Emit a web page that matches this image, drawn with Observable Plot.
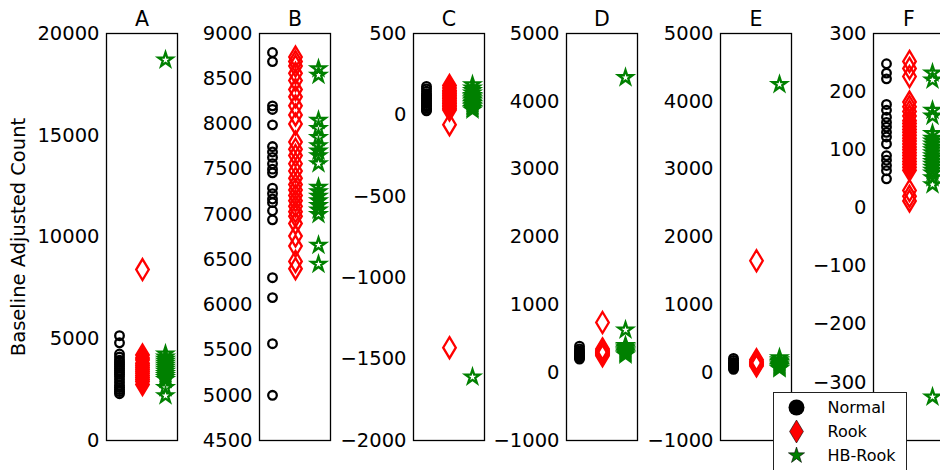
<!DOCTYPE html>
<html>
<head>
<meta charset="utf-8">
<script src="https://cdn.jsdelivr.net/npm/d3@7"></script>
<script src="https://cdn.jsdelivr.net/npm/@observablehq/plot@0.6"></script>
<style>
  html, body { margin: 0; padding: 0; background: #fff; }
  #chart { position: relative; width: 940px; height: 470px; overflow: hidden; font-family: "DejaVu Sans", sans-serif; }
  #chart > div { position: absolute; top: 0; }
  #legend { background: #fff; border: 1px solid #222; box-sizing: border-box; }
</style>
</head>
<body>
<div id="chart"></div>
<script>
// Panels and groups
const panels = ["A", "B", "C", "D", "E", "F"];
const groups = ["Normal", "Rook", "HB-Rook"];
const yLabel = "Baseline Adjusted Count";

// Baseline adjusted counts per panel and group
const normalA = [5150, 4800, 4250, 4100, 3950, 3850, 3750, 3650, 3550, 3450, 3350, 3250, 3150, 3000, 2850, 2700, 2600, 2500, 2400, 2300];
const rookA = [8400, 4200, 4050, 3950, 3800, 3700, 3600, 3500, 3400, 3300, 3200, 3100, 3000, 2900, 2750];
const hbRookA = [18700, 4250, 4100, 4000, 3900, 3800, 3700, 3600, 3500, 3400, 3300, 3200, 3100, 3000, 2600, 2200];

const normalB = [8790, 8690, 8200, 8160, 7990, 7750, 7690, 7630, 7560, 7500, 7460, 7290, 7230, 7170, 7130, 7040, 6940, 6300, 6080, 5570, 5000];
const rookB = [8740, 8690, 8640, 8560, 8480, 8380, 8300, 8200, 8100, 8000, 7800, 7720, 7650, 7560, 7480, 7400, 7330, 7270, 7210, 7150, 7090, 7030, 6980, 6900, 6760, 6650, 6480, 6400];
const hbRookB = [8610, 8540, 8040, 7950, 7850, 7760, 7700, 7650, 7560, 7300, 7250, 7200, 7150, 7100, 7050, 7000, 6660, 6450];

const normalC = [175, 160, 145, 130, 120, 110, 100, 90, 80, 70, 60, 50, 40, 30, 25];
const rookC = [180, 165, 150, 140, 130, 120, 110, 100, 90, 80, 70, 60, 50, 40, 30, -60, -1430];
const hbRookC = [185, 165, 150, 135, 120, 110, 100, 90, 80, 70, 60, 50, 40, 30, -1610];

const normalD = [390, 350, 320, 300, 280, 260, 240, 220, 200];
const rookD = [740, 350, 330, 310, 300, 290, 280, 270, 250];
const hbRookD = [4350, 630, 400, 380, 360, 340, 320, 300, 280, 260];

const normalE = [210, 180, 150, 130, 110, 90, 70, 50];
const rookE = [1650, 190, 170, 150, 130, 115, 100];
const hbRookE = [4250, 220, 190, 170, 150, 130, 110, 90, 70, 60];

const normalF = [248, 232, 222, 178, 168, 156, 147, 139, 130, 122, 110, 90, 82, 73, 64, 50];
const rookF = [252, 240, 226, 182, 174, 166, 158, 150, 145, 140, 135, 130, 125, 120, 115, 110, 105, 100, 95, 90, 85, 80, 75, 70, 65, 30, 20, 12];
const hbRookF = [232, 220, 168, 158, 128, 120, 115, 110, 105, 100, 95, 90, 85, 80, 75, 70, 65, 60, 52, 40, -325];

// Y extents and tick values per panel
const yDomains = [[0, 20000], [4500, 9000], [-2000, 500], [-1000, 5000], [-1000, 5000], [-400, 300]];
const yTicks = [
  [0, 5000, 10000, 15000, 20000],
  [4500, 5000, 5500, 6000, 6500, 7000, 7500, 8000, 8500, 9000],
  [-2000, -1500, -1000, -500, 0, 500],
  [-1000, 0, 1000, 2000, 3000, 4000, 5000],
  [-1000, 0, 1000, 2000, 3000, 4000, 5000],
  [-400, -300, -200, -100, 0, 100, 200, 300]
];

const seriesByGroup = [
  [normalA, normalB, normalC, normalD, normalE, normalF],
  [rookA, rookB, rookC, rookD, rookE, rookF],
  [hbRookA, hbRookB, hbRookC, hbRookD, hbRookE, hbRookF]
];

// Marker shapes: r is the half-height of the diamond and the outer radius of the star
const thinDiamond = {
  draw(context, size) {
    const h = Math.sqrt(size / Math.PI), w = h * 0.6;
    context.moveTo(0, -h); context.lineTo(w, 0); context.lineTo(0, h); context.lineTo(-w, 0); context.closePath();
  }
};
const star = {
  draw(context, size) {
    const R = Math.sqrt(size / Math.PI), ri = R * 0.381966;
    for (let i = 0; i < 10; i++) {
      const rad = i % 2 ? ri : R, a = i * Math.PI / 5;
      const x = rad * Math.sin(a), y = -rad * Math.cos(a);
      if (i) context.lineTo(x, y); else context.moveTo(x, y);
    }
    context.closePath();
  }
};
const groupStyle = [
  {symbol: "circle", r: 4.3, color: "#000000"},
  {symbol: thinDiamond, r: 10.5, color: "#ff0000"},
  {symbol: star, r: 7.5, color: "#008000"}
];

const chart = document.getElementById("chart");
const frameWidth = 71;
const panelStep = 153.4;
const firstFrameLeft = 106;

panels.forEach((name, i) => {
  const ml = i === 0 ? 106 : 80;
  const mr = 2;
  const width = ml + frameWidth + mr;
  const rows = groups.map((g, j) => seriesByGroup[j][i].map(v => ({group: g, value: v})));
  const plot = Plot.plot({
    width, height: 470,
    marginLeft: ml, marginRight: mr, marginTop: 33, marginBottom: 30,
    style: {background: "transparent", fontFamily: "DejaVu Sans", fontSize: "19.5px", color: "#000", overflow: "visible"},
    x: {type: "point", domain: groups, padding: 0.5, axis: null},
    y: {domain: yDomains[i]},
    marks: [
      Plot.axisY({
        ticks: yTicks[i], tickFormat: d3.format("d"), tickSize: 0, tickPadding: 7, fontSize: 19.5,
        label: i === 0 ? yLabel : null, labelAnchor: "center", labelOffset: 95, labelArrow: "none"
      }),
      ...rows.map((data, j) => Plot.dot(data, {
        x: "group", y: "value", symbol: groupStyle[j].symbol, r: groupStyle[j].r,
        stroke: groupStyle[j].color, strokeWidth: 2.3, fill: "none"
      })),
      Plot.frame({stroke: "#000", strokeWidth: 1.3}),
      Plot.text([name], {frameAnchor: "top", lineAnchor: "bottom", dy: -8, fontSize: 20.5, text: d => d})
    ]
  });
  const holder = document.createElement("div");
  holder.style.left = (firstFrameLeft + panelStep * i - ml) + "px";
  holder.style.width = width + "px";
  holder.appendChild(plot);
  chart.appendChild(holder);
});

// Legend box
const legendStyle = [
  {symbol: "circle", r: 8, fill: "#000000"},
  {symbol: thinDiamond, r: 11.5, fill: "#ff0000"},
  {symbol: star, r: 8.5, fill: "#008000"}
];
const legendRows = groups.map(g => ({group: g}));
const legend = Plot.plot({
  width: 132, height: 78,
  marginLeft: 22, marginRight: 0, marginTop: 13, marginBottom: 16,
  style: {background: "transparent", fontFamily: "DejaVu Sans", fontSize: "16px", color: "#000", overflow: "visible"},
  x: {axis: null, domain: [0, 1]},
  y: {type: "point", domain: groups, padding: 0, axis: null},
  marks: [
    ...legendRows.map((row, j) => Plot.dot([row], {
      y: "group", frameAnchor: "left", symbol: legendStyle[j].symbol, r: legendStyle[j].r,
      fill: legendStyle[j].fill, stroke: "#000", strokeWidth: j === 0 ? 0 : 0.6
    })),
    Plot.text(groups, {y: d => d, text: d => d, frameAnchor: "left", dx: 31, textAnchor: "start", fontSize: 16, lineHeight: 1})
  ]
});
const legendHolder = document.createElement("div");
legendHolder.id = "legend";
legendHolder.style.left = "773px";
legendHolder.style.top = "392px";
legendHolder.style.width = "134px";
legendHolder.style.height = "80px";
legendHolder.appendChild(legend);
chart.appendChild(legendHolder);
</script>
</body>
</html>
